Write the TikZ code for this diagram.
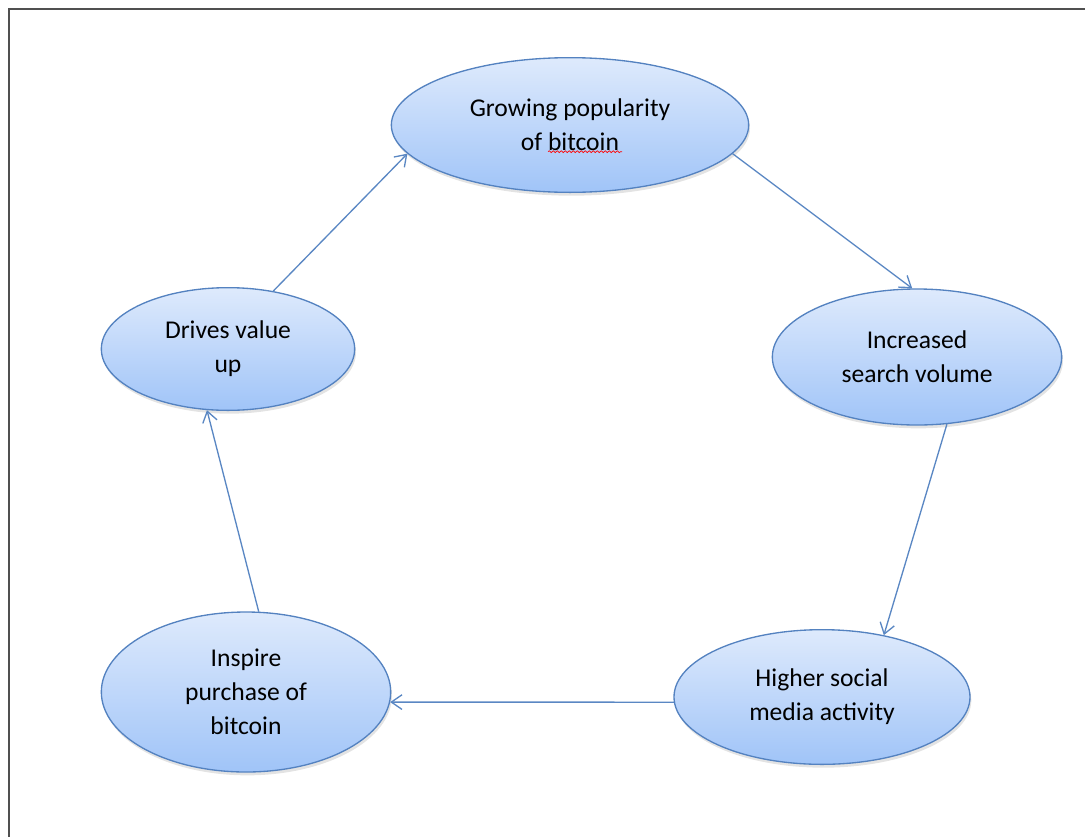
\documentclass[tikz,border=0pt]{standalone}
\usepackage{fontspec}
\setmainfont{Carlito}
\usetikzlibrary{shapes.geometric,arrows.meta,shadows,decorations.pathmorphing}
\definecolor{fillTop}{RGB}{222,234,252}
\definecolor{fillBot}{RGB}{160,196,248}
\definecolor{edgeBlue}{RGB}{84,130,192}
\definecolor{arrBlue}{RGB}{90,135,195}
\definecolor{frameGray}{RGB}{80,80,80}
\tikzset{
  bubble/.style={ellipse, draw=edgeBlue, line width=1pt, top color=fillTop, bottom color=fillBot,
    drop shadow={opacity=0.22, shadow xshift=1pt, shadow yshift=-2.5pt},
    align=center, inner sep=0pt, font=\fontsize{19.2}{25.5}\selectfont, text=black},
  flow/.style={draw=arrBlue, line width=1pt, -{Straight Barb[length=8pt,width=11pt,line width=1pt]}},
}
\begin{document}
\begin{tikzpicture}[x=0.75pt,y=-0.75pt]
\useasboundingbox (0,0) rectangle (1085,836);
\draw[frameGray, line width=1.5pt] (9,840) -- (9,8.5) -- (1090,8.5);
\node[bubble, minimum width=268pt, minimum height=101pt] (n1) at (570,125) {Growing popularity\\of bitcoin};
\node[bubble, minimum width=217pt, minimum height=102pt] (n2) at (917,357) {Increased\\search volume};
\node[bubble, minimum width=222pt, minimum height=101pt] (n3) at (822,697) {Higher social\\media activity};
\node[bubble, minimum width=217pt, minimum height=120pt] (n4) at (246,692) {Inspire\\purchase of\\bitcoin};
\node[bubble, minimum width=190pt, minimum height=92pt] (n5) at (228,349) {Drives value\\up};
\draw[red, line width=0.5pt, decorate, decoration={snake, amplitude=0.7pt, segment length=3pt}]
  ([xshift=-16.5pt,yshift=-20pt]n1.center) -- ([xshift=39pt,yshift=-20pt]n1.center);
\draw[flow] (n1.-10) -- (n2.94);
\draw[flow] (n2.-66) -- (n3.45);
\draw[flow] (n3.182.7) -- (n4.-4.7);
\draw[flow] (n4.81) -- (n5.-109.5);
\draw[flow] (n5.52.6) -- (n1.190.8);
\end{tikzpicture}
\end{document}
